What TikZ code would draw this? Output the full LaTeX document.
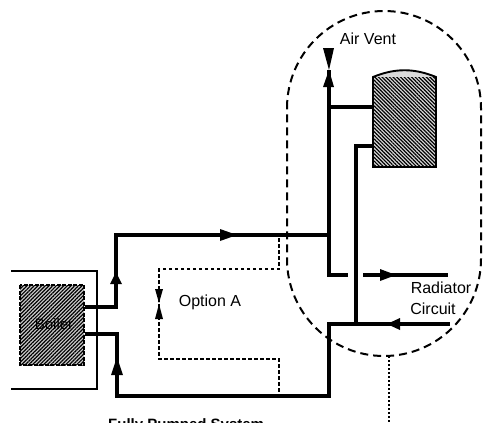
\documentclass[tikz,border=0pt]{standalone}
\usepackage{fontspec}
\setmainfont{Liberation Sans}
\usetikzlibrary{patterns.meta}
\usetikzlibrary{calc}
\tikzset{pipe/.style={line width=4pt,line join=miter},thinpipe/.style={line width=3.4pt},
	casing/.style={line width=1.5pt},envelope/.style={line width=2pt,dash pattern=on 8pt off 5pt},
	option/.style={line width=1.7pt,dash pattern=on 3.5pt off 2.5pt},
	flow/.style={fill=black,draw=none},
	hatched/.style={pattern={Lines[angle=#1,distance=2.6pt,line width=1.2pt]},pattern color=black},
	caption/.style={inner sep=0pt,font=\fontsize{16}{18}\selectfont}}
\begin{document}
\begin{tikzpicture}[x=1pt,y=-1pt]
		\useasboundingbox (0,0) rectangle (490,423);
		\clip (0,0) rectangle (490,423);

		% Punkte der Leitungen
		\coordinate (flow out)    at (85,307);
		\coordinate (flow rise)   at (116,307);
		\coordinate (flow top)    at (116,235);
		\coordinate (main tee)    at (329,235);
		\coordinate (vent)        at (329,70);
		\coordinate (rad elbow)   at (329,275);
		\coordinate (rad gap l)   at (348,275);
		\coordinate (rad gap r)   at (363,275);
		\coordinate (rad out)     at (448,275);
		\coordinate (return out)  at (85,334);
		\coordinate (return drop) at (117,334);
		\coordinate (return low)  at (117,396);
		\coordinate (return tee)  at (329,396);
		\coordinate (return up)   at (329,324);
		\coordinate (return in)   at (450,324);
		\coordinate (tank rise)   at (356,324);
		\coordinate (tank low)    at (356,146);
		\coordinate (vent tee)    at (329,107);

		% Kessel und Gehaeuse
		\draw [casing] (11,271) -- (97,271) -- (97,389) -- (11,389);
		\fill [gray!40] (20,285) rectangle (84,365);
		\fill [hatched=45] (20,285) rectangle (84,365);
		\draw [line width=1.9pt,dash pattern=on 4pt off 1.5pt] (20,285) rectangle (84,365);
		\node [caption,font=\fontsize{15}{17}\selectfont] (boiler) at (54,324) {Boiler};

		% Speicher
		\fill [gray!30] (373,77) .. controls (395,68) and (414,68) .. (436,77) -- (436,167) -- (373,167) -- cycle;
		\fill [hatched=-45] (373,77) -- (436,77) -- (436,167) -- (373,167) -- cycle;
		\draw [line width=1.9pt] (373,77) .. controls (395,68) and (414,68) .. (436,77) -- (436,167) -- (373,167) -- cycle;
		\coordinate (tank a) at (373,107);
		\coordinate (tank b) at (373,146);

		% Leitungen
		\draw [pipe] (flow out) -- (flow rise) -- (flow top) -- (main tee);
		\draw [pipe] (vent) -- (rad elbow) -- (rad gap l);
		\draw [pipe] (rad gap r) -- (rad out);
		\draw [pipe] (return out) -- (return drop) -- (return low) -- (return tee) -- (return up) -- (return in);
		\draw [thinpipe] (tank rise) -- (tank low) -- (tank b);
		\draw [thinpipe] (vent tee) -- (tank a);

		% Pfeile
		\fill [flow] (220,229) -- (237,235) -- (220,241) -- cycle;
		\fill [flow] (116,272) -- (110,284) -- (122,284) -- cycle;
		\fill [flow] (117,357) -- (111,375) -- (123,375) -- cycle;
		\fill [flow] (380,269) -- (396,275) -- (380,281) -- cycle;
		\fill [flow] (387,324) -- (400,318) -- (400,330) -- cycle;
		\fill [flow] (323,48) -- (334,48) -- (329,70) -- cycle;
		\fill [flow] (329,70) -- (323,87) -- (334,87) -- cycle;

		% Option A
		\draw [option] (279,238) -- (279,269) -- (159,269) -- (159,359) -- (279,359) -- (279,396);
		\fill [flow] (155,289) -- (163,289) -- (159,303) -- cycle;
		\fill [flow] (159,304) -- (155,319) -- (163,319) -- cycle;

		% Huelle
		\draw [envelope] (287,108) arc (180:360:97) -- (481,259) arc (0:180:97) -- cycle;
		\draw [line width=1.8pt,dash pattern=on 2pt off 2pt] (389,356) -- (389,423);

		% Beschriftung
		\node [caption] (air vent) at (368,39) {Air Vent};
		\node [caption] (option a) at (210,302) {Option A};
		\node [caption] (radiator) at (441,288) {Radiator};
		\node [caption] (circuit) at (433,309) {Circuit};
		\node [caption,font=\fontsize{15}{17}\selectfont\bfseries,anchor=north west] (system) at (108,418.5) {Fully Pumped System};
\end{tikzpicture}
\end{document}
